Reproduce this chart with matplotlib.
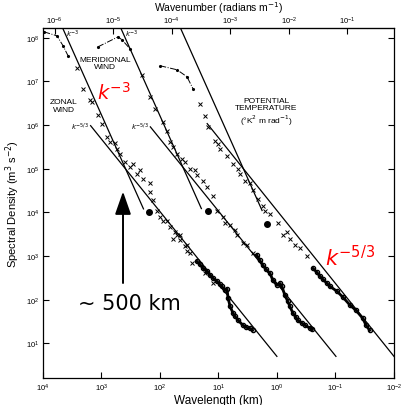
import numpy as np
import matplotlib
matplotlib.use("Agg")
import matplotlib.pyplot as plt
from matplotlib.ticker import NullLocator, FixedLocator

plt.rcParams['font.family'] = ['Liberation Sans', 'DejaVu Sans']

# ---------------- data (wavelength in km, spectral density) ----------------
# Zonal wind (plotted at true wavelength)
zonal_wl_large = [9500, 5700, 4500, 3700]
zonal_s_large = [1.37e8, 1.11e8, 6.6e7, 3.9e7]
zonal_wl_mid = [2590, 2050, 1560, 1440, 1140, 970, 800, 710, 582, 538, 479, 393, 323, 287, 245,
                218, 194, 147, 147, 131, 112, 99, 88, 75, 67, 60, 55, 51, 45, 45, 37, 34, 34,
                30.5, 28.2, 16.9, 12.3]
zonal_s_mid = [2.0e7, 6.8e6, 3.8e6, 3.4e6, 1.73e6, 1.08e6, 5.4e5, 4.2e5, 3.8e5, 2.9e5, 2.2e5,
               1.46e5, 1.12e5, 1.31e5, 7.7e4, 9.1e4, 5.9e4, 4.6e4, 3.0e4, 1.87e4, 1.10e4,
               8.0e3, 6.5e3, 6.2e3, 4.7e3, 2.5e3, 3.6e3, 2.95e3, 2.27e3, 3.1e3, 1.65e3, 1.74e3,
               1.27e3, 1.14e3, 676, 399, 235]
zonal_wl_small = [23.2, 20.6, 18.3, 15.6, 13.9, 12.3, 10.5, 9.4, 8.7, 7.7, 7.1, 6.8, 6.3, 5.6,
                  5.2, 4.6, 3.8, 3.37, 2.9, 2.6]
zonal_s_small = [750, 641, 520, 444, 359, 306, 262, 223, 201, 163, 172, 107, 70, 48.5, 41.4,
                 33.6, 25.8, 23.2, 22.0, 19.8]
zonal_wl_big = [153]
zonal_s_big = [1.04e4]
zonal_k3_wl = [5000, 190]
zonal_k3_s = [2.2e8, 1.2e4]
zonal_k53_wl = [1520, 1.0]
zonal_k53_s = [9.7e5, 5.0]

# Meridional wind (true wavelength; plotted shifted one decade)
merid_wl_large = [11400, 5170, 4420, 3230]
merid_s_large = [6.2e7, 1.05e8, 9.0e7, 5.6e7]
merid_wl_mid = [2010, 1470, 1210, 880, 753, 670, 596, 508, 418, 372, 305, 251, 232, 183, 156,
                124, 105, 83, 76.9, 63, 52, 48, 37.9, 32.4, 25.6]
merid_s_mid = [1.43e7, 4.5e6, 2.38e6, 1.20e6, 7.4e5, 4.2e5, 3.2e5, 2.2e5, 1.71e5, 1.46e5,
               1.01e5, 9.1e4, 7.0e4, 5.1e4, 3.9e4, 2.43e4, 1.10e4, 8.0e3, 5.6e3, 5.0e3,
               3.85e3, 2.95e3, 1.94e3, 1.74e3, 1.14e3]
merid_wl_small = [21.9, 19.5, 17.3, 15.3, 13.1, 11.7, 9.95, 8.85, 8.2, 7.3, 6.5, 6.0, 5.3,
                  4.72, 4.4, 3.72, 3.3, 2.7, 2.5]
merid_s_small = [1030, 790, 608, 492, 399, 276, 212, 235, 201, 125, 91, 70, 48.5, 39.3, 33.6,
                 28.6, 25.8, 22.0, 20.9]
merid_wl_big = [150]
merid_s_big = [1.10e4]
merid_k3_wl = [5000, 195]
merid_k3_s = [2.1e8, 1.22e4]
merid_k53_wl = [1450, 0.98]
merid_k53_s = [9.1e5, 5.0]

# Potential temperature (true wavelength; plotted shifted two decades)
temp_wl_large = [9900, 5080, 3430, 2710]
temp_s_large = [2.29e7, 1.85e7, 1.28e7, 6.8e6]
temp_wl_mid = [2060, 1690, 1500, 1140, 1010, 937, 711, 562, 461, 427, 351, 288, 256, 210, 173,
               160, 131, 96, 79, 67, 59.7, 49, 40.3, 30.5]
temp_s_mid = [3.09e6, 1.64e6, 9.2e5, 4.4e5, 3.76e5, 2.89e5, 2.0e5, 1.31e5, 1.0e5, 7.7e4,
              5.1e4, 4.6e4, 3.2e4, 2.07e4, 1.43e4, 1.1e4, 9.4e3, 5.6e3, 2.95e3, 3.6e3,
              2.5e3, 1.74e3, 1.49e3, 977]
temp_wl_small = [24.2, 20.7, 18.3, 16.3, 13.9, 12.4, 9.4, 7.43, 5.6, 4.46, 3.4, 3.0, 2.6]
temp_s_small = [519, 421, 340, 290, 235, 201, 155, 113, 74, 56.8, 37, 25.8, 19.8]
temp_wl_big = [147]
temp_s_big = [5.3e3]
temp_k3_wl = [5000, 179]
temp_k3_s = [2.4e8, 1.1e4]
temp_k53_wl = [1550, 1.0]
temp_k53_s = [1.08e6, 5.0]

shifts = {'zonal': 1.0, 'merid': 10.0, 'temp': 100.0}

wl_ticks = [1e4, 1e3, 1e2, 1e1, 1e0, 1e-1, 1e-2]
s_ticks = [1e1, 1e2, 1e3, 1e4, 1e5, 1e6, 1e7, 1e8]
k_ticks = [1e-6, 1e-5, 1e-4, 1e-3, 1e-2, 1e-1]

# ---------------- figure ----------------
fig = plt.figure(figsize=(4.04, 4.06), dpi=100)
ax = fig.add_axes([0.1057, 0.066, 0.8695, 0.8615])
ax.set_xscale('log')
ax.set_yscale('log')


def draw(shift, wl_l, s_l, wl_m, s_m, wl_s, s_s, wl_b, s_b, k3w, k3s, k53w, k53s):
    ax.plot(np.array(wl_l) / shift, s_l, ls='-.', lw=0.7, color='k', marker='.', ms=2.5)
    ax.plot(np.array(wl_m) / shift, s_m, ls='none', marker='x', ms=2.2, mew=0.7, color='k')
    ax.plot(np.array(wl_s) / shift, s_s, ls='-', lw=2.0, marker='o', ms=3.0, mfc='none',
            mew=1.0, color='k')
    ax.plot(np.array(wl_b) / shift, s_b, ls='none', marker='o', ms=4, color='k')
    ax.plot(np.array(k3w) / shift, k3s, lw=0.9, color='k')
    ax.plot(np.array(k53w) / shift, k53s, lw=0.9, color='k')


draw(shifts['zonal'], zonal_wl_large, zonal_s_large, zonal_wl_mid, zonal_s_mid,
     zonal_wl_small, zonal_s_small, zonal_wl_big, zonal_s_big,
     zonal_k3_wl, zonal_k3_s, zonal_k53_wl, zonal_k53_s)
draw(shifts['merid'], merid_wl_large, merid_s_large, merid_wl_mid, merid_s_mid,
     merid_wl_small, merid_s_small, merid_wl_big, merid_s_big,
     merid_k3_wl, merid_k3_s, merid_k53_wl, merid_k53_s)
draw(shifts['temp'], temp_wl_large, temp_s_large, temp_wl_mid, temp_s_mid,
     temp_wl_small, temp_s_small, temp_wl_big, temp_s_big,
     temp_k3_wl, temp_k3_s, temp_k53_wl, temp_k53_s)

ax.set_xlim(1e4, 1e-2)
ax.set_ylim(1.58, 1.64e8)

ax.xaxis.set_major_locator(FixedLocator(wl_ticks))
ax.yaxis.set_major_locator(FixedLocator(s_ticks))
ax.xaxis.set_minor_locator(NullLocator())
ax.yaxis.set_minor_locator(NullLocator())
ax.tick_params(which='major', direction='in', length=4.5, width=0.8, labelsize=5.5, pad=2.5)
ax.tick_params(axis='y', right=True)
for sp in ax.spines.values():
    sp.set_linewidth(0.9)


def wl2k(w):
    w = np.asarray(w, dtype=float)
    with np.errstate(divide='ignore', invalid='ignore'):
        return 2 * np.pi / (w * 1000.0)


secax = ax.secondary_xaxis('top', functions=(wl2k, wl2k))
secax.xaxis.set_major_locator(FixedLocator(k_ticks))
secax.xaxis.set_minor_locator(NullLocator())
secax.tick_params(direction='in', length=4, width=0.8, labelsize=5.5, pad=1.5)
secax.set_xlabel('Wavenumber (radians m$^{-1}$)', fontsize=7.5, labelpad=3)

ax.set_xlabel('Wavelength (km)', fontsize=8.5, labelpad=1)
ax.set_ylabel('Spectral Density (m$^{3}$ s$^{-2}$)', fontsize=8, labelpad=3)

# in-plot labels
ax.text(4330, 2.78e6, 'ZONAL\nWIND', fontsize=6, ha='center', va='center', linespacing=1.1)
ax.text(863, 2.68e7, 'MERIDIONAL\nWIND', fontsize=6, ha='center', va='center', linespacing=1.1)
ax.text(1.53, 2.03e6, 'POTENTIAL\nTEMPERATURE\n(°K$^{2}$ m rad$^{-1}$)', fontsize=6,
        ha='center', va='center', linespacing=1.1)
ax.text(3030, 1.24e8, r'$k^{-3}$', fontsize=5, ha='center', va='center')
ax.text(299, 1.24e8, r'$k^{-3}$', fontsize=5, ha='center', va='center')
ax.text(2310, 9.2e5, r'$k^{-5/3}$', fontsize=5, ha='center', va='center')
ax.text(218, 9.2e5, r'$k^{-5/3}$', fontsize=5, ha='center', va='center')

# red annotations
ax.text(1183, 4.0e6, r'$k^{-3}$', fontsize=14, color='red', ha='left', va='baseline')
ax.text(0.151, 608, r'$k^{-5/3}$', fontsize=15, color='red', ha='left', va='baseline')

# arrow and 500 km text
ax.annotate('', xy=(425, 3.0e4), xytext=(425, 240),
            arrowprops=dict(arrowstyle='-|>,head_length=1.0,head_width=0.35',
                            lw=1.4, color='black', mutation_scale=14, shrinkA=0, shrinkB=0))
ax.text(2500, 60, '~ 500 km', fontsize=15, family='DejaVu Sans', ha='left', va='baseline')

fig.savefig('out.png', dpi=100)
